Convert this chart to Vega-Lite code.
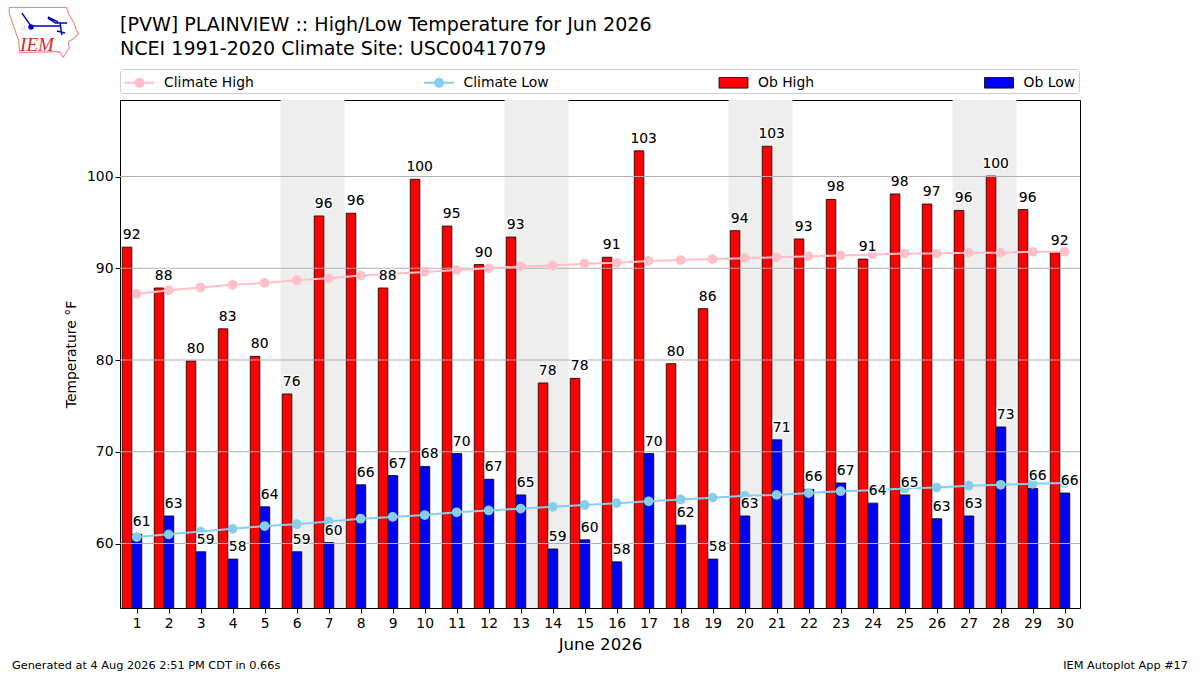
{
  "$schema": "https://vega.github.io/schema/vega-lite/v6.json",
  "width": 960,
  "height": 508,
  "autosize": {"type": "none"},
  "padding": {"left": 120, "top": 100, "right": 120, "bottom": 67},
  "background": "white",
  "title": {
    "text": ["[PVW] PLAINVIEW :: High/Low Temperature for Jun 2026", "NCEI 1991-2020 Climate Site: USC00417079"],
    "anchor": "start",
    "frame": "group",
    "font": "DejaVu Sans",
    "fontSize": 19.07,
    "fontWeight": "normal",
    "lineHeight": 24,
    "color": "black",
    "offset": 12,
    "dy": 66
  },
  "config": {
    "font": "DejaVu Sans",
    "view": {"stroke": "black", "strokeWidth": 1},
    "axis": {
      "grid": false,
      "domain": false,
      "tickColor": "black",
      "tickSize": 5,
      "labelColor": "black",
      "labelFontSize": 13.9,
      "titleColor": "black",
      "titleFontWeight": "normal"
    }
  },
  "datasets": {
    "days": [
      {"day": 1, "high": 92.3, "low": 61.0, "climate_high": 87.2, "climate_low": 60.7},
      {"day": 2, "high": 87.85, "low": 63.0, "climate_high": 87.6, "climate_low": 61.0},
      {"day": 3, "high": 79.9, "low": 59.1, "climate_high": 87.9, "climate_low": 61.3},
      {"day": 4, "high": 83.4, "low": 58.3, "climate_high": 88.2, "climate_low": 61.6},
      {"day": 5, "high": 80.4, "low": 64.0, "climate_high": 88.4, "climate_low": 61.9},
      {"day": 6, "high": 76.3, "low": 59.1, "climate_high": 88.7, "climate_low": 62.1},
      {"day": 7, "high": 95.7, "low": 60.1, "climate_high": 88.9, "climate_low": 62.4},
      {"day": 8, "high": 96.0, "low": 66.4, "climate_high": 89.2, "climate_low": 62.7},
      {"day": 9, "high": 87.85, "low": 67.4, "climate_high": 89.4, "climate_low": 62.9},
      {"day": 10, "high": 99.7, "low": 68.4, "climate_high": 89.6, "climate_low": 63.1},
      {"day": 11, "high": 94.6, "low": 69.8, "climate_high": 89.8, "climate_low": 63.4},
      {"day": 12, "high": 90.4, "low": 67.0, "climate_high": 90.0, "climate_low": 63.6},
      {"day": 13, "high": 93.4, "low": 65.3, "climate_high": 90.2, "climate_low": 63.8},
      {"day": 14, "high": 77.5, "low": 59.4, "climate_high": 90.3, "climate_low": 64.0},
      {"day": 15, "high": 78.0, "low": 60.4, "climate_high": 90.5, "climate_low": 64.2},
      {"day": 16, "high": 91.2, "low": 58.0, "climate_high": 90.6, "climate_low": 64.4},
      {"day": 17, "high": 102.8, "low": 69.8, "climate_high": 90.8, "climate_low": 64.6},
      {"day": 18, "high": 79.6, "low": 62.0, "climate_high": 90.9, "climate_low": 64.8},
      {"day": 19, "high": 85.6, "low": 58.3, "climate_high": 91.0, "climate_low": 65.0},
      {"day": 20, "high": 94.1, "low": 63.0, "climate_high": 91.1, "climate_low": 65.2},
      {"day": 21, "high": 103.3, "low": 71.3, "climate_high": 91.2, "climate_low": 65.3},
      {"day": 22, "high": 93.2, "low": 65.9, "climate_high": 91.3, "climate_low": 65.5},
      {"day": 23, "high": 97.5, "low": 66.6, "climate_high": 91.4, "climate_low": 65.7},
      {"day": 24, "high": 91.0, "low": 64.4, "climate_high": 91.5, "climate_low": 65.8},
      {"day": 25, "high": 98.1, "low": 65.3, "climate_high": 91.6, "climate_low": 66.0},
      {"day": 26, "high": 97.0, "low": 62.7, "climate_high": 91.6, "climate_low": 66.1},
      {"day": 27, "high": 96.3, "low": 63.0, "climate_high": 91.7, "climate_low": 66.3},
      {"day": 28, "high": 100.05, "low": 72.7, "climate_high": 91.7, "climate_low": 66.4},
      {"day": 29, "high": 96.4, "low": 66.0, "climate_high": 91.8, "climate_low": 66.5},
      {"day": 30, "high": 91.7, "low": 65.5, "climate_high": 91.8, "climate_low": 66.6}
    ]
  },
  "layer": [
    {
      "data": {"values": [
        {"start": 5.5, "end": 7.5},
        {"start": 12.5, "end": 14.5},
        {"start": 19.5, "end": 21.5},
        {"start": 26.5, "end": 28.5}
      ]},
      "mark": {"type": "rect", "color": "#eeeeee"},
      "encoding": {
        "x": {
          "field": "start",
          "type": "quantitative",
          "title": "June 2026",
          "scale": {"domain": [0.48, 30.48], "nice": false, "zero": false, "padding": 0},
          "axis": {
            "values": [1,2,3,4,5,6,7,8,9,10,11,12,13,14,15,16,17,18,19,20,21,22,23,24,25,26,27,28,29,30],
            "tickCount": 30,
            "format": "d",
            "labelFlush": false,
            "labelPadding": 3,
            "titleFontSize": 16.6,
            "titlePadding": 7
          }
        },
        "x2": {"field": "end"}
      }
    },
    {
      "data": {"name": "days"},
      "mark": {"type": "bar", "orient": "vertical", "width": 9.6, "xOffset": -9.6, "color": "red", "stroke": "black", "strokeWidth": 0.8, "clip": true},
      "encoding": {
        "x": {"field": "day", "type": "quantitative", "scale": {"domain": [0.48, 30.48], "nice": false, "zero": false, "padding": 0}},
        "y": {
          "field": "high",
          "type": "quantitative",
          "title": "Temperature °F",
          "scale": {"domain": [52.97, 108.34], "nice": false, "zero": false},
          "axis": {"values": [60, 70, 80, 90, 100], "titleFontSize": 13.9, "titlePadding": 8}
        }
      }
    },
    {
      "data": {"name": "days"},
      "mark": {"type": "bar", "orient": "vertical", "width": 9.6, "xOffset": 0.3, "color": "blue", "stroke": "black", "strokeWidth": 0.8, "clip": true},
      "encoding": {
        "x": {"field": "day", "type": "quantitative"},
        "y": {"field": "low", "type": "quantitative"}
      }
    },
    {
      "data": {"values": [{"temp": 60}, {"temp": 70}, {"temp": 80}, {"temp": 90}, {"temp": 100}]},
      "mark": {"type": "rule", "color": "#b0b0b0", "strokeWidth": 1},
      "encoding": {"y": {"field": "temp", "type": "quantitative"}}
    },
    {
      "data": {"name": "days"},
      "mark": {"type": "line", "color": "pink", "strokeWidth": 2, "point": {"filled": true, "color": "pink", "size": 95, "opacity": 1}},
      "encoding": {
        "x": {"field": "day", "type": "quantitative"},
        "y": {"field": "climate_high", "type": "quantitative"}
      }
    },
    {
      "data": {"name": "days"},
      "mark": {"type": "line", "color": "skyblue", "strokeWidth": 2, "point": {"filled": true, "color": "skyblue", "size": 95, "opacity": 1}},
      "encoding": {
        "x": {"field": "day", "type": "quantitative"},
        "y": {"field": "climate_low", "type": "quantitative"}
      }
    },
    {
      "data": {"values": [
        {"series": "Climate High"},
        {"series": "Climate Low"},
        {"series": "Ob High"},
        {"series": "Ob Low"}
      ]},
      "mark": {"type": "point", "filled": true, "opacity": 0},
      "encoding": {
        "color": {
          "field": "series",
          "type": "nominal",
          "scale": {
            "domain": ["Climate High", "Climate Low", "Ob High", "Ob Low"],
            "range": ["pink", "skyblue", "red", "blue"]
          },
          "legend": {
            "orient": "none",
            "legendX": 0,
            "legendY": -31,
            "direction": "horizontal",
            "columns": 4,
            "gridAlign": "each",
            "columnPadding": 167.5,
            "title": null,
            "padding": 3,
            "symbolSize": 400,
            "symbolOpacity": 1,
            "symbolStrokeWidth": 0.8,
            "labelOffset": 20,
            "labelFontSize": 13.9,
            "labelColor": "black",
            "strokeColor": "#cccccc",
            "cornerRadius": 3,
            "encode": {
              "symbols": {
                "update": {
                  "stroke": {"signal": "indexof(['Ob High', 'Ob Low'], datum.value) >= 0 ? 'black' : 'transparent'"}
                }
              }
            }
          }
        },
        "shape": {
          "field": "series",
          "type": "nominal",
          "scale": {
            "domain": ["Climate High", "Climate Low", "Ob High", "Ob Low"],
            "range": [
              "M-0.9,-0.1H2.1V0.1H-0.9Z M0.1,0a0.5,0.5 0 1,1 1,0a0.5,0.5 0 1,1 -1,0Z",
              "M-0.9,-0.1H2.1V0.1H-0.9Z M0.1,0a0.5,0.5 0 1,1 1,0a0.5,0.5 0 1,1 -1,0Z",
              "M-0.85,-0.53H2.05V0.53H-0.85Z",
              "M-0.85,-0.53H2.05V0.53H-0.85Z"
            ]
          },
          "legend": {
            "orient": "none",
            "legendX": 0,
            "legendY": -31,
            "title": null
          }
        }
      }
    },
    {
      "data": {"name": "days"},
      "mark": {"type": "text", "dx": -5, "dy": -12, "fontSize": 13.9, "stroke": "white", "strokeWidth": 3, "strokeOpacity": 0.8},
      "encoding": {
        "x": {"field": "day", "type": "quantitative"},
        "y": {"field": "high", "type": "quantitative"},
        "text": {"field": "high", "type": "quantitative", "format": ".0f"}
      }
    },
    {
      "data": {"name": "days"},
      "mark": {"type": "text", "dx": 5, "dy": -12, "fontSize": 13.9, "stroke": "white", "strokeWidth": 3, "strokeOpacity": 0.8},
      "encoding": {
        "x": {"field": "day", "type": "quantitative"},
        "y": {"field": "low", "type": "quantitative"},
        "text": {"field": "low", "type": "quantitative", "format": ".0f"}
      }
    },
    {
      "data": {"name": "days"},
      "mark": {"type": "text", "dx": -5, "dy": -12, "fontSize": 13.9, "color": "black"},
      "encoding": {
        "x": {"field": "day", "type": "quantitative"},
        "y": {"field": "high", "type": "quantitative"},
        "text": {"field": "high", "type": "quantitative", "format": ".0f"}
      }
    },
    {
      "data": {"name": "days"},
      "mark": {"type": "text", "dx": 5, "dy": -12, "fontSize": 13.9, "color": "black"},
      "encoding": {
        "x": {"field": "day", "type": "quantitative"},
        "y": {"field": "low", "type": "quantitative"},
        "text": {"field": "low", "type": "quantitative", "format": ".0f"}
      }
    },
    {
      "data": {"values": [{"label": "Generated at 4 Aug 2026 2:51 PM CDT in 0.66s"}]},
      "mark": {"type": "text", "align": "left", "fontSize": 11.3, "color": "black"},
      "encoding": {
        "x": {"datum": -2.895, "type": "quantitative"},
        "y": {"datum": 46.65, "type": "quantitative"},
        "text": {"field": "label"}
      }
    },
    {
      "data": {"values": [{"label": "IEM Autoplot App #17"}]},
      "mark": {"type": "text", "align": "right", "fontSize": 11.3, "color": "black"},
      "encoding": {
        "x": {"datum": 33.855, "type": "quantitative"},
        "y": {"datum": 46.65, "type": "quantitative"},
        "text": {"field": "label"}
      }
    },
    {
      "data": {"values": [{"part": "outline"}]},
      "mark": {
        "type": "point",
        "shape": "M-0.99,-0.70L0.65,-0.70L0.70,-0.53L0.86,-0.25L0.91,-0.08L0.99,0.04L0.86,0.18L0.70,0.28L0.72,0.47L0.55,0.72L0.44,0.56L-0.69,0.59L-0.73,0.23L-0.88,-0.20L-0.99,-0.53Z",
        "size": 4900,
        "filled": false,
        "opacity": 1,
        "color": "#e89090",
        "strokeWidth": 1.2
      },
      "encoding": {
        "x": {"datum": -1.895, "type": "quantitative"},
        "y": {"datum": 115.75, "type": "quantitative"}
      }
    },
    {
      "data": {"values": [{"part": "station"}]},
      "mark": {
        "type": "point",
        "shape": "M-0.63,-0.54L-0.49,-0.34L-0.37,-0.17L0.46,-0.17M0.11,-0.43L0.4,-0.29M0.11,-0.40L0.35,-0.25M0.31,-0.26L0.66,-0.26M0.46,-0.26L0.51,0.09M0.37,-0.03L0.6,0.03M-0.57,-0.15L-0.56,-0.15M-0.62,-0.08L-0.61,-0.08M-0.52,-0.08L-0.51,-0.08",
        "size": 4900,
        "filled": false,
        "opacity": 1,
        "color": "#0000cc",
        "strokeWidth": 1.5
      },
      "encoding": {
        "x": {"datum": -1.895, "type": "quantitative"},
        "y": {"datum": 115.75, "type": "quantitative"}
      }
    },
    {
      "data": {"values": [{"part": "station hub"}]},
      "mark": {"type": "point", "shape": "circle", "size": 30, "filled": true, "opacity": 1, "color": "#0000cc"},
      "encoding": {
        "x": {"datum": -2.3, "type": "quantitative"},
        "y": {"datum": 116.3, "type": "quantitative"}
      }
    },
    {
      "data": {"values": [{"label": "IEM"}]},
      "mark": {"type": "text", "font": "Liberation Serif", "fontStyle": "italic", "fontSize": 19, "color": "#d9262c"},
      "encoding": {
        "x": {"datum": -2.114, "type": "quantitative"},
        "y": {"datum": 114.3, "type": "quantitative"},
        "text": {"field": "label"}
      }
    }
  ]
}
